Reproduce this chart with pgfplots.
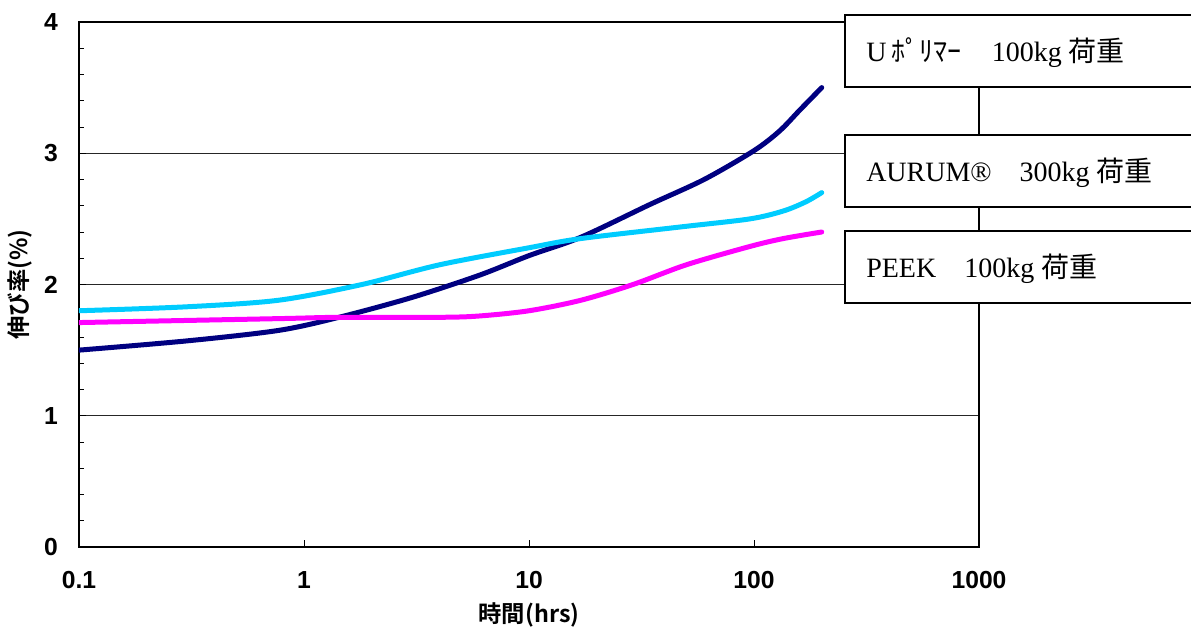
\documentclass[border=0pt]{standalone}
\usepackage{fontspec}
\usepackage{pgfplots}
\pgfplotsset{compat=1.18}
\setmainfont{Liberation Serif}
\newfontfamily\tickfont{Liberation Sans}
\newfontfamily\cjk{Noto Sans CJK JP}
\newfontfamily\cjkb{Noto Sans CJK JP Bold}
\definecolor{navyc}{HTML}{000080}
\definecolor{cyanc}{HTML}{00CCFF}
\definecolor{magc}{HTML}{FF00FF}
\begin{document}
\begin{tikzpicture}
\path[use as bounding box] (-59.25pt,-61.5pt) rectangle (834pt,410.25pt);
\begin{axis}[
  at={(0,0)}, anchor=south west,
  scale only axis, width=675pt, height=393.75pt,
  xmode=log, log basis x=10,
  xmin=0.1, xmax=1000, ymin=0, ymax=4,
  xtick={0.1,1,10,100,1000}, xticklabels={0.1,1,10,100,1000},
  xminorticks=false,
  ytick={0,1,2,3,4},
  minor y tick num=4,
  tick align=inside,
  xtick pos=left, ytick pos=left,
  major tick length=5.25pt, minor tick length=3.75pt,
  ymajorgrids, major grid style={black!85, line width=0.7pt},
  axis line style={line width=1.1pt},
  every tick/.style={black, line width=0.7pt},
  /pgf/number format/assume math mode=true,
  xticklabel style={font=\tickfont\bfseries\fontsize{18.5}{20}\selectfont, anchor=center, yshift=-25pt},
  yticklabel style={font=\tickfont\bfseries\fontsize{18.5}{20}\selectfont, anchor=east, inner sep=0pt, xshift=-15.75pt},
  xlabel={\cjkb 時間(hrs)},
  xlabel style={at={(axis description cs:0.5,-0.1295)}, anchor=center, font=\fontsize{17.5}{18}\selectfont},
  ylabel={\cjkb 伸び率(\%)},
  ylabel style={at={(axis description cs:-0.0656,0.5)}, anchor=center, font=\fontsize{17.5}{18}\selectfont},
]
\addplot[navyc, line width=3.75pt, smooth, line cap=round] coordinates {
(0.1,1.50) (0.3,1.57) (0.77,1.65) (1.43,1.75) (3,1.90) (6,2.07) (10,2.22) (17,2.36) (34.5,2.61) (60,2.80) (100,3.02) (130,3.17) (160,3.33) (200,3.50)
};
\addplot[cyanc, line width=3.75pt, smooth, line cap=round] coordinates {
(0.1,1.80) (0.3,1.83) (0.77,1.88) (1.81,2.00) (4.0,2.15) (10,2.28) (17,2.35) (48,2.44) (96,2.50) (135,2.56) (170,2.63) (200,2.70)
};
\addplot[magc, line width=3.75pt, smooth, line cap=round] coordinates {
(0.1,1.71) (0.77,1.74) (1.43,1.75) (4,1.75) (6,1.76) (10,1.80) (17,1.88) (29,2.00) (50,2.15) (96,2.29) (135,2.35) (200,2.40)
};
\end{axis}
\begin{scope}[every node/.style={anchor=base west, inner sep=0pt, font=\fontsize{21}{23}\selectfont}]
\draw[fill=white, line width=1.1pt] (574.5pt,345pt) rectangle (845pt,399pt);
\node at (590.25pt,364pt) {U\,{\cjk ﾎﾟﾘﾏｰ}\hspace{1.1em}100kg {\cjk 荷重}};
\draw[fill=white, line width=1.1pt] (574.5pt,255pt) rectangle (845pt,309pt);
\node at (590.25pt,274pt) {AURUM®\hspace{1em}300kg {\cjk 荷重}};
\draw[fill=white, line width=1.1pt] (574.5pt,183pt) rectangle (845pt,237pt);
\node at (590.25pt,202pt) {PEEK\hspace{1em}100kg {\cjk 荷重}};
\end{scope}
\end{tikzpicture}
\end{document}
